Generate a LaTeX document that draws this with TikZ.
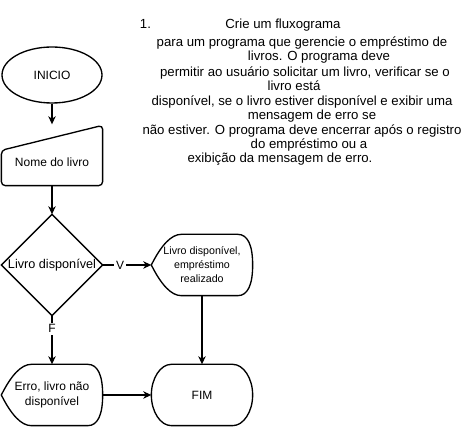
\documentclass[tikz,border=0pt]{standalone}
\usepackage{fontspec}
\setmainfont{Liberation Sans}
\usetikzlibrary{shapes.geometric,arrows.meta,calc}

\tikzset{every picture/.style={line width=1pt}}
\tikzset{
  caixa/.style={inner sep=0pt, minimum width=75pt, minimum height=45pt, font=\fontsize{9}{11.25}\selectfont},
  linha/.style={inner sep=0pt, font=\fontsize{9.9}{11}\selectfont, text height=7pt, text depth=2pt},
  seta/.style={-{Stealth[length=6pt,width=5.5pt,inset=1.8pt]}},
  rotulo/.style={fill=white, inner sep=1.5pt, font=\fontsize{9}{11}\selectfont}
}

% contorno de "display" em volta de um no
\newcommand{\formatela}[1]{%
  \draw ($(#1.west)$) .. controls ($(#1.west)+(10,-20)$) and ($(#1.north west)+(20,0)$) .. ($(#1.north west)+(30,0)$)
    -- ($(#1.north east)+(-15,0)$) .. controls ($(#1.north east)+(-5,0)$) and ($(#1.east)+(0,-20)$) .. (#1.east)
    .. controls ($(#1.east)+(0,20)$) and ($(#1.south east)+(-5,0)$) .. ($(#1.south east)+(-15,0)$)
    -- ($(#1.south west)+(30,0)$) .. controls ($(#1.south west)+(20,0)$) and ($(#1.west)+(10,20)$) .. (#1.west) -- cycle;}

\begin{document}
\begin{tikzpicture}[x=0.75pt,y=0.75pt,yscale=-1,xscale=1]
	\useasboundingbox (0,0) rectangle (462,427);

	% Enunciado
	\node[linha] (num) at (145.5,25) {1.};
	\node[linha] (t1) at (283,25) {Crie um fluxograma};
	\node[linha] (t2) at (302,43) {para um programa que gerencie o empréstimo de};
	\node[linha] (t3) at (319,57) {livros. O programa deve};
	\node[linha] (t4) at (305,73) {permitir ao usuário solicitar um livro, verificar se o};
	\node[linha] (t5) at (294,87) {livro está};
	\node[linha] (t6) at (302,102) {disponível, se o livro estiver disponível e exibir uma};
	\node[linha] (t7) at (312,116) {mensagem de erro se};
	\node[linha] (t8) at (302,131) {não estiver. O programa deve encerrar após o registro};
	\node[linha] (t9) at (309,145) {do empréstimo ou a};
	\node[linha] (t10) at (280,159) {exibição da mensagem de erro.};

	% Inicio
	\node[caixa, draw, ellipse, minimum height=42pt] (inicio) at (52,75) {INICIO};

	% Entrada manual
	\node[caixa] (nome) at (52,155) {\raisebox{-9pt}[0pt][0pt]{Nome do livro}};
	\draw[rounded corners=3pt] ($(nome.north west)+(0,26)$) -- ($(nome.north east)+(0,1)$) -- (nome.south east) -- (nome.south west) -- cycle;

	% Decisao
	\node[caixa, minimum height=75pt, font=\fontsize{9.5}{11}\selectfont] (teste) at (52,265) {Livro disponível};
	\draw (teste.north) -- (teste.east) -- (teste.south) -- (teste.west) -- cycle;

	% Saidas
	\node[caixa, align=center, font=\fontsize{8}{10.5}\selectfont] (ok) at (202,265) {Livro disponível,\\empréstimo\\realizado};
	\formatela{ok}
	\node[caixa, align=center] (erro) at (52,395) {Erro, livro não\\disponível};
	\formatela{erro}

	% Fim
	\node[caixa] (fim) at (202,395) {FIM};
	\draw ($(fim.north west)+(20,0)$) -- ($(fim.north east)+(-20,0)$) .. controls ($(fim.north east)+(-9,0)$) and ($(fim.east)+(0,-16.5)$) .. (fim.east)
		.. controls ($(fim.east)+(0,16.5)$) and ($(fim.south east)+(-9,0)$) .. ($(fim.south east)+(-20,0)$)
		-- ($(fim.south west)+(20,0)$) .. controls ($(fim.south west)+(9,0)$) and ($(fim.west)+(0,16.5)$) .. (fim.west)
		.. controls ($(fim.west)+(0,-16.5)$) and ($(fim.north west)+(9,0)$) .. ($(fim.north west)+(20,0)$) -- cycle;

	% Setas
	\draw[seta] (inicio.south) -- (nome.north);
	\draw[seta] (nome.south) -- (teste.north);
	\draw[seta] (teste.east) -- node[rotulo, pos=0.36] (v) {V} (ok.west);
	\draw[seta] (teste.south) -- node[rotulo, pos=0.27] (f) {F} (erro.north);
	\draw[seta] (ok.south) -- (fim.north);
	\draw[seta] (erro.east) -- (fim.west);

\end{tikzpicture}
\end{document}
